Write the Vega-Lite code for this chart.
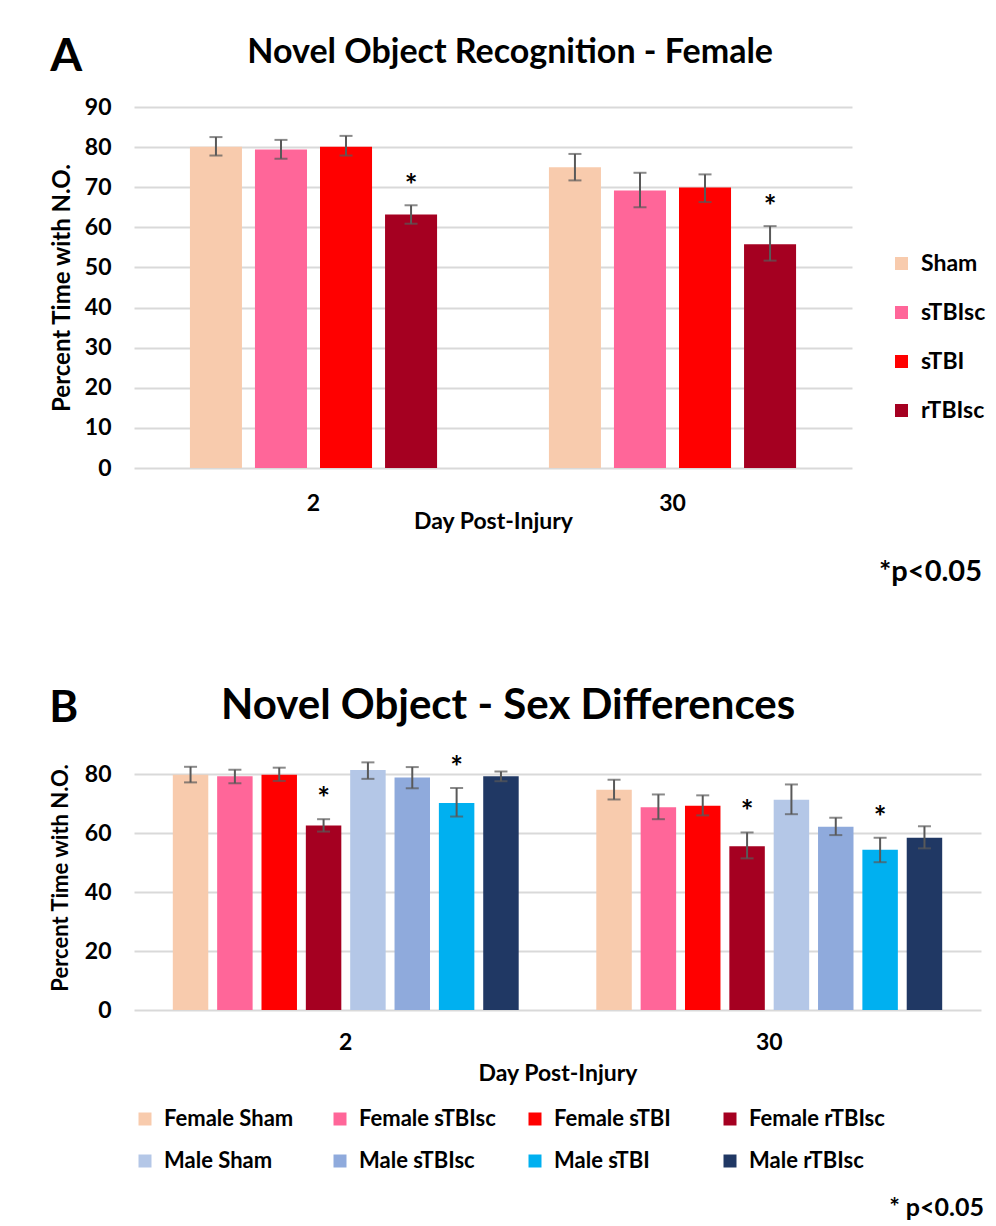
{
  "$schema": "https://vega.github.io/schema/vega-lite/v6.json",
  "background": "white",
  "padding": {"top": 34, "left": 49, "right": 4, "bottom": 0},
  "spacing": 98,
  "resolve": {"scale": {"color": "independent", "xOffset": "independent", "x": "independent", "y": "independent"}, "legend": {"color": "independent"}, "axis": {"x": "independent", "y": "independent"}},
  "config": {
    "font": "Lato",
    "view": {"stroke": null},
    "axis": {"domain": false, "ticks": false, "labelFont": "Lato", "labelFontWeight": "bold", "labelColor": "#000000", "titleFont": "Lato", "titleFontWeight": "bold", "titleColor": "#000000", "gridColor": "#D9D9D9", "gridWidth": 2},
    "legend": {"labelFont": "Lato", "labelFontWeight": "bold", "labelColor": "#000000"},
    "title": {"font": "Lato", "fontWeight": "bold", "color": "#000000"}
  },
  "datasets": {
    "female": [
      {"day": "2", "group": "Sham", "mean": 80.1, "lo": 77.9, "hi": 82.5, "sig": ""},
      {"day": "2", "group": "sTBIsc", "mean": 79.4, "lo": 77.1, "hi": 81.8, "sig": ""},
      {"day": "2", "group": "sTBI", "mean": 80.1, "lo": 77.9, "hi": 82.8, "sig": ""},
      {"day": "2", "group": "rTBIsc", "mean": 63.2, "lo": 60.9, "hi": 65.5, "sig": "*"},
      {"day": "30", "group": "Sham", "mean": 75.0, "lo": 71.7, "hi": 78.3, "sig": ""},
      {"day": "30", "group": "sTBIsc", "mean": 69.2, "lo": 65.0, "hi": 73.6, "sig": ""},
      {"day": "30", "group": "sTBI", "mean": 69.9, "lo": 66.3, "hi": 73.2, "sig": ""},
      {"day": "30", "group": "rTBIsc", "mean": 55.8, "lo": 51.7, "hi": 60.3, "sig": "*"}
    ],
    "sex": [
      {"day": "2", "group": "Female Sham", "mean": 79.9, "lo": 77.3, "hi": 82.6, "sig": ""},
      {"day": "2", "group": "Female sTBIsc", "mean": 79.4, "lo": 77.0, "hi": 81.6, "sig": ""},
      {"day": "2", "group": "Female sTBI", "mean": 79.9, "lo": 77.8, "hi": 82.3, "sig": ""},
      {"day": "2", "group": "Female rTBIsc", "mean": 62.7, "lo": 60.6, "hi": 64.8, "sig": "*"},
      {"day": "2", "group": "Male Sham", "mean": 81.5, "lo": 78.5, "hi": 84.1, "sig": ""},
      {"day": "2", "group": "Male sTBIsc", "mean": 79.0, "lo": 75.3, "hi": 82.5, "sig": ""},
      {"day": "2", "group": "Male sTBI", "mean": 70.3, "lo": 65.7, "hi": 75.4, "sig": "*"},
      {"day": "2", "group": "Male rTBIsc", "mean": 79.4, "lo": 77.7, "hi": 81.0, "sig": ""},
      {"day": "30", "group": "Female Sham", "mean": 74.8, "lo": 71.5, "hi": 78.2, "sig": ""},
      {"day": "30", "group": "Female sTBIsc", "mean": 68.9, "lo": 64.8, "hi": 73.2, "sig": ""},
      {"day": "30", "group": "Female sTBI", "mean": 69.4, "lo": 66.1, "hi": 72.9, "sig": ""},
      {"day": "30", "group": "Female rTBIsc", "mean": 55.6, "lo": 51.5, "hi": 60.3, "sig": "*"},
      {"day": "30", "group": "Male Sham", "mean": 71.4, "lo": 66.5, "hi": 76.6, "sig": ""},
      {"day": "30", "group": "Male sTBIsc", "mean": 62.2, "lo": 59.4, "hi": 65.3, "sig": ""},
      {"day": "30", "group": "Male sTBI", "mean": 54.4, "lo": 50.2, "hi": 58.5, "sig": "*"},
      {"day": "30", "group": "Male rTBIsc", "mean": 58.5, "lo": 54.9, "hi": 62.4, "sig": ""}
    ]
  },
  "vconcat": [
    {
      "title": {"text": "*p<0.05", "orient": "bottom", "anchor": "end", "fontSize": 29, "offset": 25, "dx": -4},
      "vconcat": [
        {
          "title": {"text": "A", "anchor": "start", "fontSize": 46, "offset": -45},
          "vconcat": [
            {
              "title": {"text": "Novel Object Recognition - Female", "fontSize": 34, "anchor": "middle", "frame": "bounds", "offset": 26, "dx": 59},
              "width": 718,
              "height": 361,
              "data": {"name": "female"},
              "encoding": {
                "x": {"field": "day", "type": "nominal", "sort": ["2", "30"], "scale": {"paddingInner": 0, "paddingOuter": 0}, "axis": {"labelAngle": 0, "labelFontSize": 23, "labelPadding": 24, "title": "Day Post-Injury", "titleFontSize": 23, "titlePadding": -5, "grid": false}},
                "xOffset": {"field": "group", "type": "nominal", "sort": ["Sham", "sTBIsc", "sTBI", "rTBIsc"], "scale": {"paddingInner": 0.2, "paddingOuter": 0.86}}
              },
              "layer": [
                {
                  "mark": {"type": "bar"},
                  "encoding": {
                    "y": {"field": "mean", "type": "quantitative", "title": "Percent Time with N.O.", "scale": {"domain": [0, 90], "nice": false}, "axis": {"values": [0, 10, 20, 30, 40, 50, 60, 70, 80, 90], "labelFontSize": 23, "labelPadding": 23, "titleFontSize": 24, "titlePadding": 10}},
                    "color": {"field": "group", "type": "nominal", "sort": ["Sham", "sTBIsc", "sTBI", "rTBIsc"], "scale": {"domain": ["Sham", "sTBIsc", "sTBI", "rTBIsc"], "range": ["#F8CBAD", "#FF6699", "#FF0000", "#A50021"]}, "legend": {"orient": "none", "legendX": 756, "legendY": 145, "title": null, "symbolType": "square", "symbolSize": 169, "symbolStrokeWidth": 0, "labelFontSize": 23, "rowPadding": 25, "labelOffset": 8, "padding": 0}}
                  }
                },
                {
                  "mark": {"type": "rule", "color": "#595959", "strokeWidth": 2},
                  "encoding": {"y": {"field": "lo", "type": "quantitative", "title": "Percent Time with N.O."}, "y2": {"field": "hi"}}
                },
                {
                  "mark": {"type": "tick", "color": "#595959", "thickness": 2, "size": 13},
                  "encoding": {"y": {"field": "hi", "type": "quantitative", "title": "Percent Time with N.O."}}
                },
                {
                  "mark": {"type": "tick", "color": "#595959", "thickness": 2, "size": 13},
                  "encoding": {"y": {"field": "lo", "type": "quantitative", "title": "Percent Time with N.O."}}
                },
                {
                  "mark": {"type": "text", "fontSize": 30, "fontWeight": "bold", "color": "#000000", "baseline": "alphabetic", "dy": -9},
                  "encoding": {"y": {"field": "hi", "type": "quantitative", "title": "Percent Time with N.O."}, "text": {"field": "sig"}}
                }
              ]
            }
          ]
        }
      ]
    },
    {
      "title": {"text": "* p<0.05", "orient": "bottom", "anchor": "end", "fontSize": 25, "offset": 24, "dx": 3},
      "vconcat": [
        {
          "title": {"text": "B", "anchor": "start", "fontSize": 44, "offset": -46},
          "vconcat": [
            {
              "title": {"text": "Novel Object - Sex Differences", "fontSize": 42, "anchor": "middle", "frame": "bounds", "offset": 0, "dx": -7},
              "width": 847,
              "height": 265,
              "data": {"name": "sex"},
              "encoding": {
                "x": {"field": "day", "type": "nominal", "sort": ["2", "30"], "scale": {"paddingInner": 0, "paddingOuter": 0}, "axis": {"labelAngle": 0, "labelFontSize": 23, "labelPadding": 21, "title": "Day Post-Injury", "titleFontSize": 23, "titlePadding": 8, "grid": false}},
                "xOffset": {"field": "group", "type": "nominal", "sort": ["Female Sham", "Female sTBIsc", "Female sTBI", "Female rTBIsc", "Male Sham", "Male sTBIsc", "Male sTBI", "Male rTBIsc"], "scale": {"paddingInner": 0.2, "paddingOuter": 0.875}}
              },
              "layer": [
                {
                  "mark": {"type": "bar"},
                  "encoding": {
                    "y": {"field": "mean", "type": "quantitative", "title": "Percent Time with N.O.", "scale": {"domain": [0, 90], "nice": false}, "axis": {"values": [0, 20, 40, 60, 80], "labelFontSize": 23, "labelPadding": 23, "titleFontSize": 22, "titlePadding": 12}},
                    "color": {"field": "group", "type": "nominal", "sort": ["Female Sham", "Female sTBIsc", "Female sTBI", "Female rTBIsc", "Male Sham", "Male sTBIsc", "Male sTBI", "Male rTBIsc"], "scale": {"domain": ["Female Sham", "Female sTBIsc", "Female sTBI", "Female rTBIsc", "Male Sham", "Male sTBIsc", "Male sTBI", "Male rTBIsc"], "range": ["#F8CBAD", "#FF6699", "#FF0000", "#A50021", "#B4C7E7", "#8FAADC", "#00B0F0", "#203864"]}, "legend": {"orient": "bottom", "direction": "horizontal", "columns": 4, "gridAlign": "all", "title": null, "symbolType": "square", "symbolSize": 169, "symbolStrokeWidth": 0, "labelFontSize": 22, "rowPadding": 20, "columnPadding": 28, "labelOffset": 8, "labelLimit": 250, "offset": 23, "padding": 0}}
                  }
                },
                {
                  "mark": {"type": "rule", "color": "#595959", "strokeWidth": 2},
                  "encoding": {"y": {"field": "lo", "type": "quantitative", "title": "Percent Time with N.O."}, "y2": {"field": "hi"}}
                },
                {
                  "mark": {"type": "tick", "color": "#595959", "thickness": 2, "size": 13},
                  "encoding": {"y": {"field": "hi", "type": "quantitative", "title": "Percent Time with N.O."}}
                },
                {
                  "mark": {"type": "tick", "color": "#595959", "thickness": 2, "size": 13},
                  "encoding": {"y": {"field": "lo", "type": "quantitative", "title": "Percent Time with N.O."}}
                },
                {
                  "mark": {"type": "text", "fontSize": 30, "fontWeight": "bold", "color": "#000000", "baseline": "alphabetic", "dy": -10},
                  "encoding": {"y": {"field": "hi", "type": "quantitative", "title": "Percent Time with N.O."}, "text": {"field": "sig"}}
                }
              ]
            }
          ]
        }
      ]
    }
  ]
}
